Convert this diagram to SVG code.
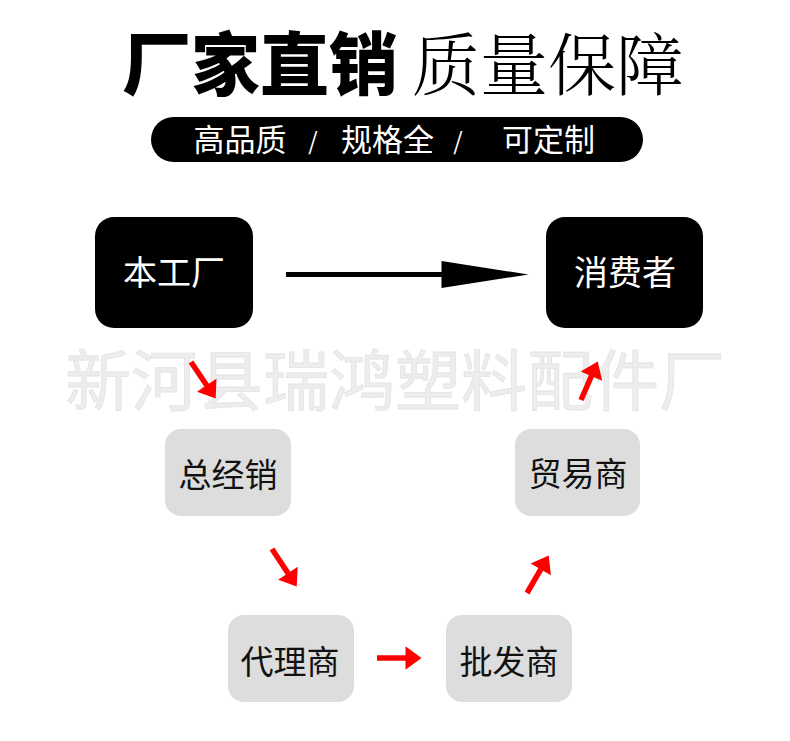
<svg xmlns="http://www.w3.org/2000/svg" width="790" height="741" viewBox="0 0 790 741">
  <defs>
    <marker id="redHead" markerUnits="userSpaceOnUse" markerWidth="17" markerHeight="24" refX="0.5" refY="11.75" orient="auto" overflow="visible">
      <path d="M0,0 L16,11.75 L0,23.5 Z" fill="#ff0000"/>
    </marker>
    <marker id="blackHead" markerUnits="userSpaceOnUse" markerWidth="88" markerHeight="28" refX="0.5" refY="13.5" orient="auto" overflow="visible">
      <path d="M0,0 L87,13.5 L0,27 Z" fill="#000000"/>
    </marker>
  </defs>
  <style>
    .cjk { font-family: "Noto Sans CJK SC", "Noto Sans", sans-serif; }
    .dark { fill: #000000; }
    .gray { fill: #dddddd; }
    .darkText { fill: #ffffff; font-size: 34px; text-anchor: middle; }
    .grayText { fill: #111111; font-size: 33px; text-anchor: middle; }
    .red { stroke: #ff0000; stroke-width: 5.5; fill: none; marker-end: url(#redHead); }
  </style>
  <rect width="790" height="741" fill="#ffffff"/>

  <g id="title">
    <text class="cjk" x="122" y="90" font-size="69" font-weight="900" fill="#000">厂家直销</text>
    <text x="412" y="90" font-size="68" font-weight="300" fill="#000" font-family="'Noto Serif CJK SC', 'Noto Sans CJK SC', serif">质量保障</text>
  </g>

  <g id="subtitle">
    <rect x="151" y="117" width="492" height="45" rx="22.5" class="dark"/>
    <text class="cjk" y="151" font-size="31" fill="#fff" text-anchor="middle"><tspan x="240">高品质</tspan><tspan x="313" font-size="24" dy="-1"> / </tspan><tspan x="387.5" dy="1">规格全</tspan><tspan x="458" font-size="24" dy="-1"> / </tspan><tspan x="548.5" dy="1">可定制</tspan></text>
  </g>

  <g id="watermark">
    <text class="cjk" x="65" y="405" font-size="66" fill="#ededed" stroke="#e3e3e3" stroke-width="0.8">新河县瑞鸿塑料配件厂</text>
  </g>

  <g id="node-factory">
    <rect x="95" y="217" width="158" height="111" rx="19" class="dark"/>
    <text class="cjk darkText" x="174" y="285">本工厂</text>
  </g>
  <g id="node-consumer">
    <rect x="546" y="217" width="157" height="111" rx="19" class="dark"/>
    <text class="cjk darkText" x="625" y="285">消费者</text>
  </g>
  <g id="node-general">
    <rect x="165" y="429" width="126" height="87" rx="16" class="gray"/>
    <text class="cjk grayText" x="228" y="487">总经销</text>
  </g>
  <g id="node-trade">
    <rect x="515" y="429" width="125" height="87" rx="16" class="gray"/>
    <text class="cjk grayText" x="578" y="486">贸易商</text>
  </g>
  <g id="node-agent">
    <rect x="228" y="615" width="126" height="87" rx="16" class="gray"/>
    <text class="cjk grayText" x="290" y="674">代理商</text>
  </g>
  <g id="node-wholesale">
    <rect x="446" y="615" width="126" height="87" rx="16" class="gray"/>
    <text class="cjk grayText" x="509" y="674">批发商</text>
  </g>

  <g id="connectors">
    <line x1="286" y1="274.5" x2="442" y2="274.5" stroke="#000" stroke-width="5" marker-end="url(#blackHead)"/>
    <line class="red" x1="191" y1="362" x2="207" y2="385.7"/>
    <line class="red" x1="272" y1="549" x2="288.2" y2="573.6"/>
    <line class="red" x1="377" y1="658" x2="406" y2="658"/>
    <line class="red" x1="527" y1="593" x2="541" y2="568.9"/>
    <line class="red" x1="581" y1="400" x2="591.6" y2="375.7"/>
  </g>
</svg>
